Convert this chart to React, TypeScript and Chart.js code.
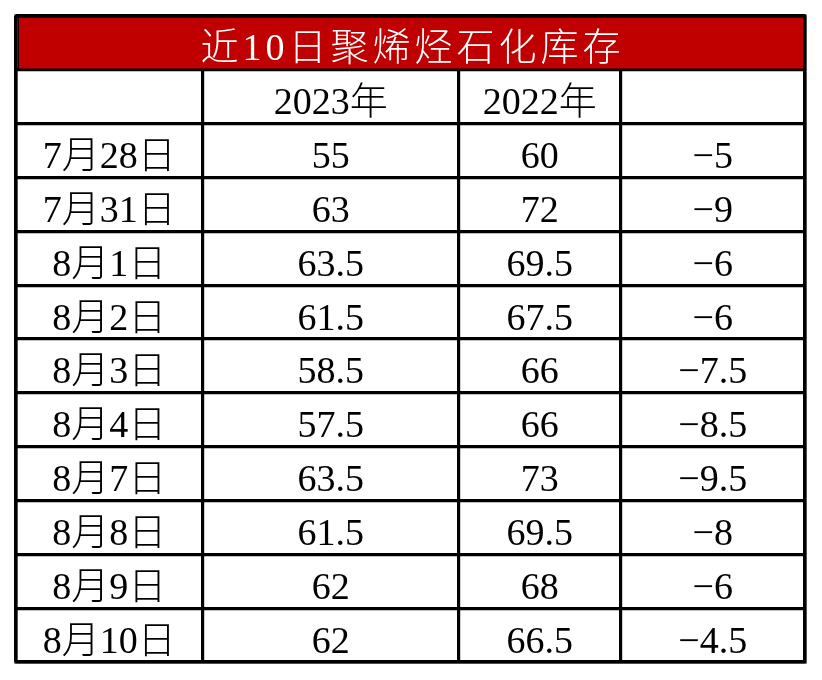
import React, { useEffect, useRef } from "react";
import { Chart, registerables } from "chart.js";

Chart.register(...registerables);

const title = "近10日聚烯烃石化库存";
const headers = ["", "2023年", "2022年", ""];
const dates = ["7月28日", "7月31日", "8月1日", "8月2日", "8月3日", "8月4日", "8月7日", "8月8日", "8月9日", "8月10日"];
const values2023 = [55, 63, 63.5, 61.5, 58.5, 57.5, 63.5, 61.5, 62, 62];
const values2022 = [60, 72, 69.5, 67.5, 66, 66, 73, 69.5, 68, 66.5];
const diffs = [-5, -9, -6, -6, -7.5, -8.5, -9.5, -8, -6, -4.5];

// layout (not data)
const colWidths = [186.5, 256.5, 161.5, 184.5];
const colEdges = colWidths.reduce<number[]>((acc, w) => [...acc, acc[acc.length - 1] + w], [0]);
const total = colEdges[colEdges.length - 1];
const FONT = "300 38px 'Liberation Serif', 'Noto Sans CJK SC', serif";
const LINE = 3.2;

const fmt = (v: number) => String(v).replace("-", "\u2212");

export default function App() {
  const ref = useRef<HTMLCanvasElement | null>(null);

  useEffect(() => {
    if (!ref.current) return;
    const rowLabels = ["title", "header", ...dates];
    const rows: string[][] = dates.map((d, i) => [d, fmt(values2023[i]), fmt(values2022[i]), fmt(diffs[i])]);

    const textPlugin = {
      id: "cellText",
      afterDatasetsDraw(chart: any) {
        const { ctx, scales, chartArea } = chart;
        const xs = scales.x;
        const ys = scales.y;
        ctx.save();
        ctx.font = FONT;
        ctx.textAlign = "center";
        ctx.textBaseline = "alphabetic";
        const off = 17.5;
        // title
        ctx.fillStyle = "#ffffff";
        (ctx as any).letterSpacing = "4px";
        ctx.fillText(title, xs.getPixelForValue(total / 2) + 2, ys.getPixelForValue(0) + off);
        (ctx as any).letterSpacing = "0px";
        ctx.fillStyle = "#000000";
        const colCenter = (c: number) => xs.getPixelForValue((colEdges[c] + colEdges[c + 1]) / 2);
        headers.forEach((h, c) => {
          if (h) ctx.fillText(h, colCenter(c), ys.getPixelForValue(1) + off);
        });
        rows.forEach((r, i) => {
          r.forEach((t, c) => ctx.fillText(t, colCenter(c), ys.getPixelForValue(i + 2) + off));
        });
        // outer frame
        ctx.lineWidth = LINE;
        ctx.strokeStyle = "#000000";
        ctx.strokeRect(chartArea.left, chartArea.top, chartArea.right - chartArea.left, chartArea.bottom - chartArea.top);
        ctx.restore();
      },
    };

    const chart = new Chart(ref.current, {
      type: "bar",
      data: {
        labels: rowLabels,
        datasets: [
          {
            data: rowLabels.map((_, i) => (i === 0 ? [0, total] : null)) as any,
            backgroundColor: "#C00000",
            borderColor: "#000000",
            borderWidth: 1.6,
            borderSkipped: false,
            barPercentage: 1,
            categoryPercentage: 1,
          },
        ],
      },
      options: {
        indexAxis: "y",
        responsive: false,
        animation: false,
        events: [],
        layout: { padding: { left: 8, top: 8, right: 9, bottom: 10 } },
        plugins: { legend: { display: false }, tooltip: { enabled: false }, title: { display: false } },
        scales: {
          x: {
            type: "linear",
            min: 0,
            max: total,
            afterBuildTicks: (axis: any) => {
              axis.ticks = colEdges.map((v) => ({ value: v }));
            },
            ticks: { display: false },
            grid: { color: "#000000", lineWidth: LINE, drawTicks: false },
            border: { display: false },
          },
          y: {
            type: "category",
            ticks: { display: false },
            grid: { color: "#000000", lineWidth: LINE, drawTicks: false, offset: true },
            border: { display: false },
          },
        },
      },
      plugins: [textPlugin],
    });
    return () => chart.destroy();
  }, []);

  return (
    <div style={{ width: 806, height: 664 }}>
      <canvas ref={ref} width={806} height={664} style={{ display: "block" }} />
    </div>
  );
}
